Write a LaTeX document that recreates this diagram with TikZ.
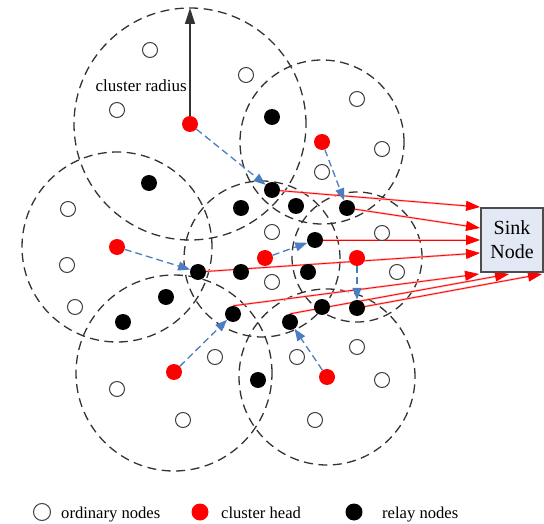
\documentclass[tikz,border=0pt]{standalone}
\usepackage{fontspec}
\setmainfont{Liberation Serif}
\usetikzlibrary{arrows.meta}
\definecolor{linkblue}{RGB}{74,126,193}
\definecolor{sinkfill}{RGB}{226,233,245}
\pgfdeclarelayer{back}
\pgfsetlayers{back,main}

\begin{document}
\begin{tikzpicture}[x=1pt,y=-1pt,
  ordinary/.style={circle,draw=black!75,line width=1pt,fill=white,minimum size=15pt,inner sep=0pt},
  head/.style={circle,fill=red,minimum size=16pt,inner sep=0pt},
  relay/.style={circle,fill=black,minimum size=16pt,inner sep=0pt},
  cluster/.style={draw=black!80,line width=1.3pt,dash pattern=on 9pt off 5.5pt},
  uplink/.style={draw=linkblue,line width=1.3pt,dash pattern=on 7pt off 4pt,
    -{Triangle[length=12pt,width=9pt]}},
  tosink/.style={draw=red,line width=0.8pt,
    preaction={draw=red!30,line width=2pt,-,shorten >=8pt},
    -{Triangle[length=14pt,width=10pt]}},
  radiusline/.style={draw=black!80,line width=1.2pt,-{Triangle[length=16pt,width=10pt]}},
  label/.style={font=\fontsize{17}{20}\selectfont,inner sep=0pt},
  legendtext/.style={font=\fontsize{16.6}{20}\selectfont,inner sep=0pt,anchor=base west}
]
\useasboundingbox (0,0) rectangle (544,524);

% ordinary nodes
\foreach \n/\x/\y in {o1/150/50, o2/246/75, o3/117/110, o4/357/99, o5/382/149,
  o6/322/172, o7/68/209, o8/67/265, o9/75/307, o10/272/232, o11/272/282,
  o12/382/233, o13/397/272, o14/215/357, o15/297/357, o16/357/347,
  o17/382/380, o18/117/389, o19/183/420, o20/315/420}
  \node[ordinary] (\n) at (\x,\y) {};

% cluster heads
\node[head] (ch1) at (190,124) {};
\node[head] (ch2) at (322,142) {};
\node[head] (ch3) at (117,247) {};
\node[head] (ch4) at (265,258) {};
\node[head] (ch5) at (357,258) {};
\node[head] (ch6) at (174,372) {};
\node[head] (ch7) at (327,377) {};

% relay nodes
\foreach \n/\x/\y in {r1/272/117, r2/149/183, r3/272/190, r4/241/208, r5/296/206,
  r6/347/208, r7/315/240, r8/198/272, r9/241/272, r10/308/272, r11/166/297,
  r12/123/322, r13/233/314, r14/322/307, r15/357/308, r16/290/322, r17/258/380}
  \node[relay] (\n) at (\x,\y) {};

% sink
\node[draw=black!70,line width=1.3pt,fill=sinkfill,minimum width=62pt,minimum height=64pt,
  inner sep=0pt,align=center,font=\fontsize{20}{24}\selectfont] (sink) at (512,240) {Sink\\Node};

% arrow ends at the sink
\coordinate (t1) at (480,207);
\coordinate (t2) at (480,228);
\coordinate (t3) at (480,240);
\coordinate (t4) at (480,253);
\coordinate (t5) at (479,274);
\coordinate (t6) at (509,274);
\coordinate (t7) at (542,274);
\coordinate (rtop) at (190,8);

\node[label,anchor=base east] (radlabel) at (187,92) {cluster radius};

\begin{pgfonlayer}{back}
  % cluster ranges
  \draw[cluster] (190,124) circle[radius=116pt];
  \draw[cluster] (322,142) circle[radius=82pt];
  \draw[cluster] (117,247) circle[radius=95pt];
  \draw[cluster] (262,259) circle[radius=78pt];
  \draw[cluster] (357,257) circle[radius=65pt];
  \draw[cluster] (174,373) circle[radius=98pt];
  \draw[cluster] (327,377) circle[radius=88pt];

  % relays forwarding to the sink
  \draw[tosink] (r3) -- (t1);
  \draw[tosink] (r6) -- (t2);
  \draw[tosink] (r7) -- (t3);
  \draw[tosink] (r8) -- (t4);
  \draw[tosink] (r13.north) -- (t5);
  \draw[tosink] (r16.north) -- (t6);
  \draw[tosink] (r15) -- (t7);
\end{pgfonlayer}

% cluster heads to relays
\draw[uplink] (ch1) -- (r3);
\draw[uplink] (ch2) -- (r6);
\draw[uplink] (ch3) -- (r8);
\draw[uplink] (ch4) -- (r7);
\draw[uplink] (ch5) -- (r15);
\draw[uplink] (ch6) -- (r13);
\draw[uplink] (ch7) -- (r16);

% radius marker
\draw[radiusline] (ch1) -- (rtop);

% legend
\node[ordinary,minimum size=17pt] (lg1) at (42,512) {};
\node[legendtext] (lt1) at (61,518) {ordinary nodes};
\node[head,minimum size=17pt] (lg2) at (200,512) {};
\node[legendtext] (lt2) at (221,518) {cluster head};
\node[relay,minimum size=17pt] (lg3) at (354,512) {};
\node[legendtext] (lt3) at (382,518) {relay nodes};
\end{tikzpicture}
\end{document}
